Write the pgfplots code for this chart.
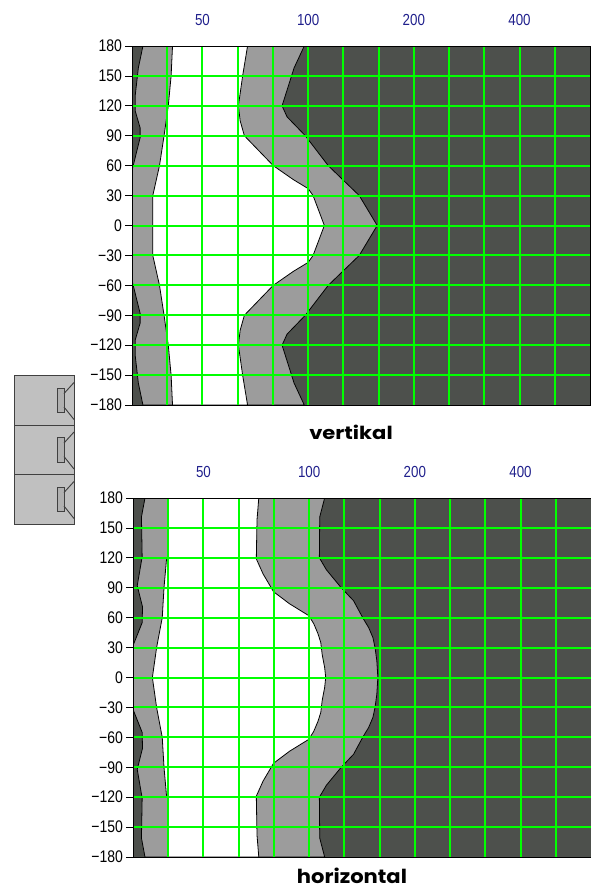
\documentclass[border=0pt]{standalone}
\usepackage{fontspec}
\setmainfont{Liberation Sans}
\newfontfamily\titlefont{Poppins}
\usepackage{graphicx}
\usepackage{pgfplots}
\pgfplotsset{compat=1.18}

\definecolor{darkzone}{HTML}{4D504C}
\definecolor{midzone}{HTML}{9C9C9C}
\definecolor{gridgreen}{HTML}{00FF00}
\definecolor{freqblue}{HTML}{20208C}
\definecolor{boxgrey}{HTML}{C0C0C0}

% the screen font is narrow and tall
\newcommand{\tl}[1]{\scalebox{1}[1.2]{#1}}

% x = third-octave band number: 0 = 40 Hz, 1 = 50 Hz, 4 = 100 Hz, ...
\pgfplotsset{
  dirplot/.style={
    scale only axis,
    anchor=north west,
    width=343.5pt,
    height=269.25pt,
    xmin=-1, xmax=12,
    ymin=-180, ymax=180,
    axis on top,
    xtick={0,1,2,3,4,5,6,7,8,9,10,11},
    xticklabels={,\tl{50},,,\tl{100},,,\tl{200},,,\tl{400},},
    xticklabel pos=top,
    xticklabel style={text=freqblue, font=\fontsize{10}{11}\selectfont, yshift=7pt},
    ytick={-150,-120,-90,-60,-30,0,30,60,90,120,150},
    yticklabels={\tl{−150},\tl{−120},\tl{−90},\tl{−60},\tl{−30},\tl{0},\tl{30},\tl{60},\tl{90},\tl{120},\tl{150}},
    extra y ticks={-180,180},
    extra y tick labels={\tl{−180},\tl{180}},
    extra y tick style={grid=none},
    yticklabel style={font=\fontsize{10.5}{11}\selectfont, xshift=1pt},
    ytick pos=left,
    tick align=outside,
    major tick length=5pt,
    xtick style={draw=none},
    ytick style={black, line width=0.6pt},
    grid=major,
    major grid style={gridgreen, line width=1.5pt},
    axis line style={black, line width=0.7pt},
  },
  contour/.style={draw=black, line width=0.6pt},
}

\begin{document}
\begin{tikzpicture}
\path[use as bounding box] (0,0) rectangle (443.25pt,-666.75pt);

% vertikal
\begin{axis}[dirplot, at={(99pt,-34.5pt)}]
\addplot[fill=darkzone, draw=none] coordinates {(-1,-180) (12,-180) (12,180) (-1,180)} -- cycle;
\addplot[contour, fill=midzone] coordinates {
  (-0.69,180) (-0.82,158) (-0.91,130) (-0.91,115) (-0.77,98) (-0.77,88) (-0.98,58)
  (-1.2,58) (-1.2,-58)
  (-0.98,-58) (-0.77,-88) (-0.77,-98) (-0.91,-115) (-0.91,-130) (-0.82,-158) (-0.69,-180)
  (3.89,-180) (3.60,-158) (3.26,-120) (3.40,-109) (3.92,-90) (4.57,-60) (5.45,-30)
  (5.96,0)
  (5.45,30) (4.57,60) (3.92,90) (3.40,109) (3.26,120) (3.60,158) (3.89,180)
} -- cycle;
\addplot[contour, fill=white] coordinates {
  (0.15,180) (0.11,150) (0.03,120) (-0.09,90) (-0.22,60) (-0.41,30) (-0.41,0)
  (-0.41,-30) (-0.22,-60) (-0.09,-90) (0.03,-120) (0.11,-150) (0.15,-180)
  (2.28,-180) (2.14,-150) (2.02,-120) (2.07,-105) (2.19,-90) (3.01,-60) (3.58,-46) (4.00,-37) (4.14,-30)
  (4.46,0)
  (4.14,30) (4.00,37) (3.58,46) (3.01,60) (2.19,90) (2.07,105) (2.02,120) (2.14,150) (2.28,180)
} -- cycle;
\end{axis}

% horizontal
\begin{axis}[dirplot, at={(99.75pt,-373.5pt)}]
\addplot[fill=darkzone, draw=none] coordinates {(-1,-180) (12,-180) (12,180) (-1,180)} -- cycle;
\addplot[contour, fill=midzone] coordinates {
  (-0.66,180) (-0.76,161) (-0.74,121) (-0.88,92) (-0.73,71) (-0.74,55) (-1.0,32)
  (-1.2,32) (-1.2,-32)
  (-1.0,-32) (-0.74,-55) (-0.73,-71) (-0.88,-92) (-0.74,-121) (-0.76,-161) (-0.66,-180)
  (4.44,-180) (4.30,-161) (4.29,-120) (4.49,-108) (4.91,-90) (5.26,-77) (5.52,-60) (5.69,-50) (5.81,-40) (5.87,-30) (5.92,-17)
  (5.95,0)
  (5.92,17) (5.87,30) (5.81,40) (5.69,50) (5.52,60) (5.26,77) (4.91,90) (4.49,108) (4.29,120) (4.30,161) (4.44,180)
} -- cycle;
\addplot[contour, fill=white] coordinates {
  (-0.02,180) (-0.02,120) (-0.05,118) (-0.12,90) (-0.17,60) (-0.33,30) (-0.45,0)
  (-0.33,-30) (-0.17,-60) (-0.12,-90) (-0.05,-118) (-0.02,-120) (-0.02,-180)
  (2.57,-180) (2.52,-158) (2.50,-119) (2.69,-104) (2.99,-86) (3.44,-74) (3.99,-62) (4.13,-54) (4.25,-44) (4.33,-35) (4.37,-23) (4.44,-10)
  (4.47,0)
  (4.44,10) (4.37,23) (4.33,35) (4.25,44) (4.13,54) (3.99,62) (3.44,74) (2.99,86) (2.69,104) (2.50,119) (2.52,158) (2.57,180)
} -- cycle;
\end{axis}

% cabinet sketch, three stacked boxes
\begin{scope}[x=0.75pt, y=-0.75pt, line width=0.7pt, draw=black!75]
  \draw[fill=boxgrey] (14,375.5) rectangle (74,524);
  \draw (14,425) -- (74,425);
  \draw (14,474.5) -- (74,474.5);
  \foreach \d in {0,49.5,99} {
    \draw[fill=midzone!80!white, yshift=-\d*0.75pt] (57.5,388) rectangle (64,412.5);
    \draw[yshift=-\d*0.75pt] (64,393.5) -- (74,382.5);
    \draw[yshift=-\d*0.75pt] (64,407) -- (74,419.5);
  }
  \node[inner sep=0pt, font=\titlefont\bfseries\fontsize{13.5}{14}\selectfont, xscale=1.17, transform shape] at (351,432) {vertikal};
  \node[inner sep=0pt, font=\titlefont\bfseries\fontsize{14.5}{15}\selectfont, xscale=1.09, transform shape] at (352,876) {horizontal};
\end{scope}
\end{tikzpicture}
\end{document}
